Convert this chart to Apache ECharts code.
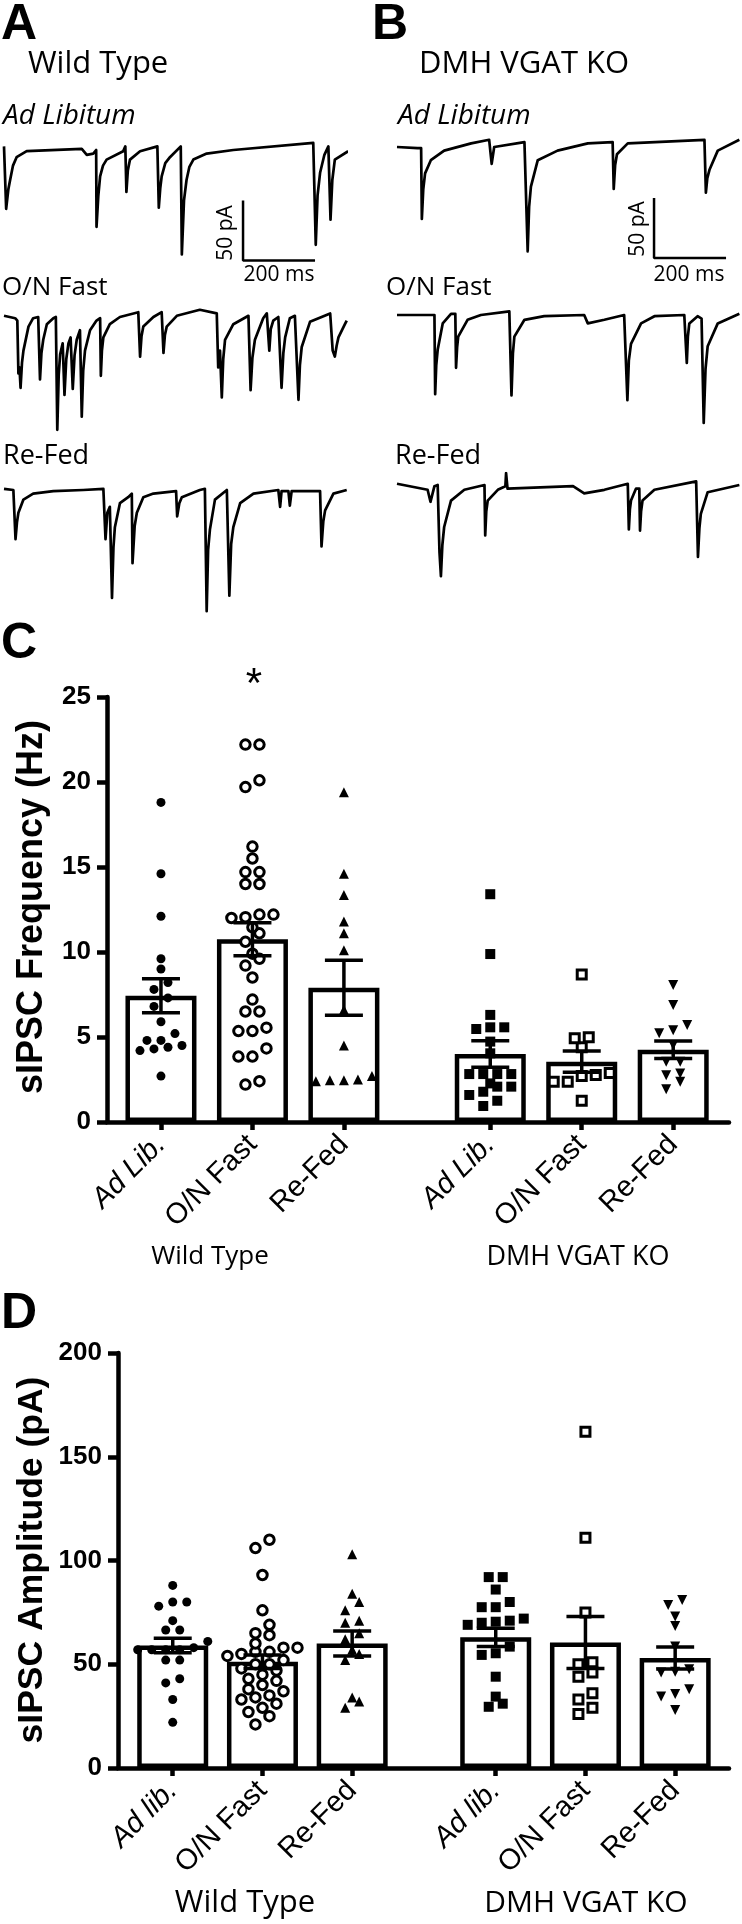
<!DOCTYPE html>
<html><head><meta charset="utf-8">
<script src="https://cdn.jsdelivr.net/npm/echarts@6/dist/echarts.min.js"></script>
<style>html,body{margin:0;padding:0;background:#fff}#c{width:742px;height:1924px}</style>
</head><body><div id="c"></div>
<script>
// ---------- Panel A/B traces: [time ms, current pA] ----------
const traceWtAdLib = [[0,3],[6,-49],[12,-33],[17,-25],[25,-13],[35,-6],[63,-1],[216,1],[230,-4],[248,-3],[256,0],[257,-64],[262,-38],[267,-22],[275,-13],[285,-8],[331,-1],[337,3],[340,-35],[344,-17],[350,-8],[378,-1],[426,3],[430,-48],[434,-32],[438,-22],[448,-11],[461,-6],[491,3],[494,-87],[500,-42],[507,-25],[515,-14],[526,-8],[563,-3],[637,0],[859,6],[866,-79],[871,-38],[878,-19],[890,-4],[901,3],[907,-58],[912,-25],[919,-8],[956,-1]];
const traceWtFast = [[0,1],[31,-1],[37,-3],[40,-47],[43,-42],[46,-59],[50,-38],[54,-28],[68,-8],[81,-1],[95,0],[100,-52],[104,-30],[109,-19],[119,-6],[137,-1],[144,0],[148,-94],[152,-48],[156,-31],[163,-22],[168,-65],[173,-35],[179,-22],[185,-17],[191,-60],[196,-32],[202,-19],[211,-11],[216,-83],[220,-45],[225,-28],[239,-11],[257,-3],[267,-1],[269,-49],[272,-28],[276,-17],[294,-6],[322,0],[373,4],[378,-33],[382,-16],[387,-8],[415,0],[438,4],[443,-30],[447,-15],[452,-8],[480,1],[544,6],[591,3],[595,-42],[600,-28],[605,-67],[609,-35],[614,-19],[637,-6],[679,1],[685,-61],[690,-34],[697,-19],[720,-1],[730,3],[737,-28],[741,-10],[748,-3],[762,0],[771,-59],[776,-30],[781,-17],[794,-1],[808,1],[818,-69],[822,-40],[827,-25],[850,-4],[906,3],[913,-28],[919,-33],[924,-24],[929,-17],[947,-6],[952,-3]];
const traceWtRefed = [[0,1],[26,0],[32,-41],[36,-27],[40,-19],[54,-8],[81,-3],[137,-1],[220,0],[276,1],[282,-41],[287,-19],[294,-14],[300,-90],[304,-48],[308,-31],[322,-11],[345,-6],[355,-3],[357,-61],[363,-30],[369,-19],[387,-6],[415,-3],[478,-1],[481,-22],[487,-11],[494,-6],[544,0],[558,1],[563,-101],[567,-50],[572,-33],[586,-8],[619,0],[623,0],[626,-88],[631,-45],[637,-31],[656,-11],[693,-3],[762,0],[767,-14],[771,-1],[790,-1],[794,-13],[799,-1],[878,-1],[882,-47],[887,-26],[892,-17],[915,-3],[952,0]];
const traceKoAdLib = [[0,0],[57,-1],[67,-1],[69,-60],[73,-35],[78,-22],[94,-11],[131,-3],[206,3],[256,6],[263,-14],[270,0],[354,4],[363,-87],[367,-50],[372,-33],[391,-11],[446,-3],[530,3],[599,4],[602,-35],[606,-15],[611,-6],[641,3],[854,6],[858,-38],[862,-26],[868,-19],[891,-3],[951,6]];
const traceKoFast = [[0,0],[104,0],[106,-66],[109,-42],[113,-29],[127,-7],[150,1],[162,1],[164,-44],[167,-27],[170,-18],[196,-4],[233,0],[312,3],[318,-67],[322,-32],[326,-18],[354,-4],[409,-1],[520,0],[530,-7],[576,-4],[631,0],[640,-71],[644,-38],[650,-24],[678,-7],[715,-1],[798,0],[805,-40],[808,-18],[812,-7],[835,-1],[846,-3],[852,-90],[857,-45],[863,-26],[891,-7],[951,1]];
const traceKoRefed = [[0,1],[85,-4],[93,-14],[104,-1],[113,0],[118,-56],[122,-76],[126,-50],[131,-35],[150,-13],[187,-4],[243,0],[245,-42],[248,-22],[252,-13],[280,-4],[301,-1],[303,10],[307,-3],[489,-1],[520,-7],[576,-4],[641,1],[644,-37],[647,-20],[650,-13],[664,-3],[673,-3],[675,-38],[678,-22],[682,-13],[715,-4],[831,3],[836,-60],[840,-36],[844,-24],[863,-6],[951,0]];
const scaleBarPA = 50;
const scaleBarMs = 200;

// ---------- Panels C/D ----------
const groupPos = [1, 2, 3, 4.6, 5.6, 6.6];
const freqCats = ['Ad Lib.', 'O/N Fast', 'Re-Fed', 'Ad Lib.', 'O/N Fast', 'Re-Fed'];
const ampCats = ['Ad lib.', 'O/N Fast', 'Re-Fed', 'Ad lib.', 'O/N Fast', 'Re-Fed'];
const groupNames = ['Wild Type', 'DMH VGAT KO'];

const freqMean = [7.43, 10.75, 7.9, 4.0, 3.55, 4.25];
const freqSem = [1.0, 0.97, 1.62, 0.78, 0.62, 0.52];
const freqWtAdLib = [18.8, 14.6, 12.1, 9.6, 9.0, 8.2, 7.8, 7.3, 6.8, 5.9, 5.2, 4.8, 4.8, 4.5, 4.4, 4.3, 4.2, 2.7];
const freqWtFast = [22.2, 22.2, 20.1, 19.7, 16.2, 15.5, 14.7, 14.7, 14.0, 14.0, 12.2, 12.2, 12.05, 12.0, 11.45, 11.1, 10.6, 9.9, 9.6, 9.2, 8.5, 7.2, 6.5, 6.5, 5.55, 5.35, 5.35, 4.33, 3.85, 3.85, 2.4, 2.2];
const freqWtRefed = [19.4, 14.6, 13.35, 11.8, 11.1, 10.1, 6.6, 4.5, 2.7, 2.5, 2.45, 2.45, 2.4];
const freqKoAdLib = [13.4, 9.88, 6.3, 5.57, 5.47, 5.57, 4.73, 4.04, 2.82, 2.82, 2.82, 2.82, 2.27, 2.08, 2.08, 1.78, 1.59, 1.25, 0.94];
const freqKoFast = [8.68, 4.98, 4.92, 4.39, 2.88, 2.76, 2.7, 2.37, 2.37, 1.25];
const freqKoRefed = [8.06, 6.88, 5.7, 5.4, 5.22, 4.53, 3.55, 3.55, 2.86, 2.75, 2.37, 1.92];

const ampMean = [59, 51.2, 60, 63, 60.5, 53];
const ampSem = [3.5, 3.2, 6, 4.4, 12.5, 5.3];
const ampWtAdLib = [88, 80, 80, 78, 71, 66.5, 66.5, 61, 58, 57, 57, 57, 57, 52, 52, 43, 41, 33, 22];
const ampWtFast = [110, 106, 93, 76, 69, 65, 64, 60, 58, 58, 56, 56, 55, 54, 52, 50, 50, 48, 47, 45, 43, 42, 40, 38, 37, 35, 34, 33, 31, 29, 27, 25, 21];
const ampWtRefed = [103, 84, 80, 76, 71, 70, 65, 62, 57, 55, 52, 34, 32, 29];
const ampKoAdLib = [92, 92, 86, 80, 77.5, 77.5, 72, 71, 70.5, 70, 69, 58.5, 55.3, 54.5, 44, 34.4, 31, 29.5];
const ampKoFast = [162, 111, 75, 51, 50, 46, 44, 36, 33, 29, 26];
const ampKoRefed = [81, 78.5, 73, 68.4, 58.5, 47.6, 46.4, 46, 38, 35.7, 34.4, 28];

// ---------- build ----------
const FONT = '"Liberation Sans", Arial, sans-serif';
const SANS = '"Open Sans", sans-serif';
const chart = echarts.init(document.getElementById('c'), null, {renderer: 'canvas', width: 742, height: 1924});

const traces = [traceWtAdLib, traceWtFast, traceWtRefed, traceKoAdLib, traceKoFast, traceKoRefed];
const traceGridPos = [[4,138],[4,305],[4,478],[397,135],[397,303],[397,473]];
const grids = traceGridPos.map(p => ({left: p[0], top: p[1], width: 342, height: 144}));
grids.push({left: 107, top: 697, width: 622, height: 425});
grids.push({left: 118, top: 1353, width: 611, height: 415});

const xAxes = [], yAxes = [], series = [];
traceGridPos.forEach((p, i) => {
  xAxes.push({gridIndex: i, type: 'value', min: 0, max: 950, show: false});
  yAxes.push({gridIndex: i, type: 'value', min: -110, max: 10, show: false});
  series.push({type: 'line', xAxisIndex: i, yAxisIndex: i, data: traces[i], showSymbol: false, symbol: 'none',
    lineStyle: {color: '#000', width: 2.7, join: 'round'}, silent: true});
});
// scale bars
series.push({type: 'line', xAxisIndex: 0, yAxisIndex: 0, symbol: 'none', silent: true,
  data: [[664, -92 + scaleBarPA], [664, -92], [664 + scaleBarMs, -92]], lineStyle: {color: '#000', width: 2.5}});
series.push({type: 'line', xAxisIndex: 3, yAxisIndex: 3, symbol: 'none', silent: true,
  data: [[714, -92.5 + scaleBarPA], [714, -92.5], [714 + scaleBarMs, -92.5]], lineStyle: {color: '#000', width: 2.5}});

function catFmt(cats) {
  return function (v) {
    let i = 0, best = 1e9;
    groupPos.forEach((p, k) => { if (Math.abs(p - v) < best) { best = Math.abs(p - v); i = k; } });
    const s = cats[i];
    return /lib/i.test(s) ? '{it|' + s + '}' : '{n|' + s + '}';
  };
}
const AX = {color: '#000', width: 4.5};
function addPanel(gi, xmin, xmax, ymax, yint, cats) {
  xAxes.push({gridIndex: gi, type: 'value', min: xmin, max: xmax,
    axisLine: {show: true, onZero: false, lineStyle: AX},
    axisTick: {show: true, customValues: groupPos, length: 8, lineStyle: AX},
    axisLabel: {show: true, customValues: groupPos, rotate: 45, margin: 18, formatter: catFmt(cats),
      rich: {it: {fontStyle: 'italic', fontSize: 29, fontFamily: FONT, color: '#000'},
             n: {fontSize: 29, fontFamily: FONT, color: '#000'}}},
    splitLine: {show: false}});
  yAxes.push({gridIndex: gi, type: 'value', min: 0, max: ymax, interval: yint,
    axisLine: {show: true, lineStyle: AX},
    axisTick: {show: true, length: 10, lineStyle: AX},
    axisLabel: {fontSize: 26, fontWeight: 'bold', fontFamily: FONT, color: '#000', margin: 16},
    splitLine: {show: false}});
}
addPanel(6, 0.41, 7.21, 25, 5, freqCats);
addPanel(7, 0.39, 7.20, 200, 50, ampCats);

function swarm(values, center, pxPerY, pxPerX, rowPx, stepPx) {
  const sorted = values.slice().sort((a, b) => a - b);
  const rows = []; let cur = null;
  sorted.forEach(v => {
    if (cur && (v - cur.start) * pxPerY < rowPx) cur.vals.push(v);
    else { cur = {start: v, vals: [v]}; rows.push(cur); }
  });
  const pts = [];
  rows.forEach(r => {
    const k = r.vals.length;
    r.vals.forEach((v, i) => pts.push([center + (i - (k - 1) / 2) * stepPx / pxPerX, v]));
  });
  return pts;
}

const styles = [
  {symbol: 'circle', size: 9, open: false},
  {symbol: 'circle', size: 9.5, open: true},
  {symbol: 'triangle', size: 10, open: false},
  {symbol: 'rect', size: 10, open: false},
  {symbol: 'rect', size: 9, open: true},
  {symbol: 'triangle', size: 10, open: false, rot: 180}
];
function addData(gi, mean, sem, groups, pxPerY, pxPerX) {
  series.push({type: 'bar', xAxisIndex: gi, yAxisIndex: gi, silent: true, barWidth: 71, z: 2,
    data: groupPos.map((p, i) => [p, mean[i]]),
    itemStyle: {color: '#fff', borderColor: '#000', borderWidth: 4.5, opacity: 1}});
  groups.forEach((vals, i) => {
    const st = styles[i];
    series.push({type: 'scatter', xAxisIndex: gi, yAxisIndex: gi, silent: true, z: 3,
      data: swarm(vals, groupPos[i], pxPerY, pxPerX, 9, 14),
      symbol: st.symbol, symbolSize: st.size, symbolRotate: st.rot || 0,
      itemStyle: st.open ? {color: '#fff', borderColor: '#000', borderWidth: 3, opacity: 1} : {color: '#000', opacity: 1}});
  });
  series.push({type: 'custom', xAxisIndex: gi, yAxisIndex: gi, silent: true, z: 5,
    data: groupPos.map((p, i) => [p, mean[i] - sem[i], mean[i] + sem[i]]),
    renderItem: function (params, api) {
      const x = api.value(0);
      const lo = api.coord([x, api.value(1)]);
      const hi = api.coord([x, api.value(2)]);
      const w = 19, s = {stroke: '#000', lineWidth: 3.5};
      return {type: 'group', children: [
        {type: 'line', shape: {x1: lo[0], y1: lo[1], x2: hi[0], y2: hi[1]}, style: s},
        {type: 'line', shape: {x1: lo[0] - w, y1: lo[1], x2: lo[0] + w, y2: lo[1]}, style: s},
        {type: 'line', shape: {x1: hi[0] - w, y1: hi[1], x2: hi[0] + w, y2: hi[1]}, style: s}
      ]};
    }});
}
addData(6, freqMean, freqSem, [freqWtAdLib, freqWtFast, freqWtRefed, freqKoAdLib, freqKoFast, freqKoRefed], 17, 91.43);
addData(7, ampMean, ampSem, [ampWtAdLib, ampWtFast, ampWtRefed, ampKoAdLib, ampKoFast, ampKoRefed], 2.075, 89.64);

function T(x, y, text, o) {
  o = o || {};
  return {type: 'text', x: x, y: y, rotation: o.rot || 0, silent: true,
    style: {text: text, fill: '#000', fontSize: o.size || 26, fontFamily: o.family || SANS,
      fontWeight: o.weight || 'normal', fontStyle: o.style || 'normal',
      align: o.align || 'left', verticalAlign: 'middle'}};
}
const BIG = {size: 50, weight: 'bold', family: FONT};
const graphic = [
  T(1, 25, 'A', BIG), T(372, 25, 'B', BIG), T(1, 644, 'C', BIG), T(1, 1314, 'D', BIG),
  T(28, 64, groupNames[0], {size: 31}),
  T(419, 64, groupNames[1], {size: 31}),
  T(3, 116, 'Ad Libitum', {size: 28, style: 'italic'}),
  T(398, 116, 'Ad Libitum', {size: 28, style: 'italic'}),
  T(2, 288, 'O/N Fast', {size: 26}),
  T(386, 288, 'O/N Fast', {size: 26}),
  T(3, 456, 'Re-Fed', {size: 27}),
  T(395, 456, 'Re-Fed', {size: 27}),
  T(226, 233, '50 pA', {size: 21, align: 'center', rot: Math.PI / 2}),
  T(638, 229, '50 pA', {size: 21, align: 'center', rot: Math.PI / 2}),
  T(279, 275, '200 ms', {size: 21, align: 'center'}),
  T(689, 275, '200 ms', {size: 21, align: 'center'}),
  T(254, 685, '*', {size: 42, align: 'center', family: FONT}),
  T(32, 907, 'sIPSC Frequency (Hz)', {size: 36, weight: 'bold', family: FONT, align: 'center', rot: Math.PI / 2}),
  T(32, 1560, 'sIPSC Amplitude (pA)', {size: 35.5, weight: 'bold', family: FONT, align: 'center', rot: Math.PI / 2}),
  T(210, 1257, groupNames[0], {size: 26, align: 'center'}),
  T(578, 1257, groupNames[1], {size: 27, align: 'center'}),
  T(245, 1903, groupNames[0], {size: 31, align: 'center'}),
  T(586, 1903, groupNames[1], {size: 30, align: 'center'})
];

chart.setOption({animation: false, backgroundColor: '#fff', grid: grids, xAxis: xAxes, yAxis: yAxes, series: series, graphic: graphic});
</script></body></html>
